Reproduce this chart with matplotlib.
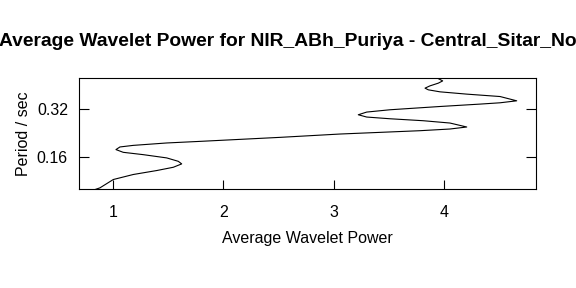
"""Average wavelet power against period, R-style boxed plot."""

import matplotlib

matplotlib.use("Agg")
import matplotlib.pyplot as plt
from matplotlib.ticker import FixedLocator, NullLocator

plt.rcParams["font.family"] = ["Liberation Sans", "DejaVu Sans"]

TITLE = "Average Wavelet Power for NIR_ABh_Puriya - Central_Sitar_No"

# curve, bottom to top
power = [
    0.837, 0.882, 1.003, 1.184, 1.396, 1.547, 1.623, 1.592, 1.487, 1.275, 1.093,
    1.027, 1.063, 1.184, 1.487, 1.789, 2.514, 3.058, 3.783, 4.055, 4.207, 4.055,
    3.813, 3.511, 3.300, 3.224, 3.300, 3.511, 3.965, 4.327, 4.509, 4.660, 4.509,
    4.207, 3.965, 3.859, 3.829, 3.874, 3.949, 3.989, 3.949, 3.928,
]
period = [
    0.0997, 0.1022, 0.1153, 0.1240, 0.1313, 0.1377, 0.1446, 0.1501, 0.1577, 0.1653,
    0.1710, 0.1779, 0.1848, 0.1891, 0.1958, 0.2004, 0.2124, 0.2229, 0.2339, 0.2397,
    0.2468, 0.2614, 0.2703, 0.2781, 0.2851, 0.2947, 0.3064, 0.3168, 0.3322, 0.3439,
    0.3505, 0.3607, 0.3838, 0.3974, 0.4108, 0.4229, 0.4334, 0.4480, 0.4658, 0.4813,
    0.4977, 0.5066,
]

x_ticks = [1, 2, 3, 4]
y_ticks = [0.16, 0.32]
y_tick_labels = ["0.16", "0.32"]

fig = plt.figure(figsize=(5.76, 2.88), dpi=100)
ax = fig.add_axes([79 / 576, 1 - 189 / 288, (536 - 79) / 576, (189 - 78) / 288])

ax.plot(power, period, color="black", linewidth=0.8)
ax.set_yscale("log", base=2)
ax.set_xlim(0.692, 4.835)
ax.set_ylim(0.1005, 0.502)

ax.xaxis.set_major_locator(FixedLocator(x_ticks))
ax.yaxis.set_major_locator(FixedLocator(y_ticks))
ax.yaxis.set_minor_locator(NullLocator())
ax.set_yticklabels(y_tick_labels)
ax.set_xticklabels([str(v) for v in x_ticks])

ax.tick_params(axis="x", direction="in", length=6.8, width=0.8, pad=11.5,
               labelsize=11.5, bottom=True, top=False)
ax.tick_params(axis="y", direction="in", length=7.5, width=0.8, pad=8,
               labelsize=11.5, left=True, right=True)
for spine in ax.spines.values():
    spine.set_linewidth(0.8)

ax.set_xlabel("Average Wavelet Power", fontsize=11.5, labelpad=8)
ax.set_ylabel("Period / sec", fontsize=11.5, labelpad=4)

# the title runs past the figure edges, as in the source plot
fig.text(-1 / 576, 1 - 41.5 / 288, TITLE, ha="left", va="center",
         fontsize=13.85, fontweight="bold")

fig.savefig("out.png", dpi=100)
